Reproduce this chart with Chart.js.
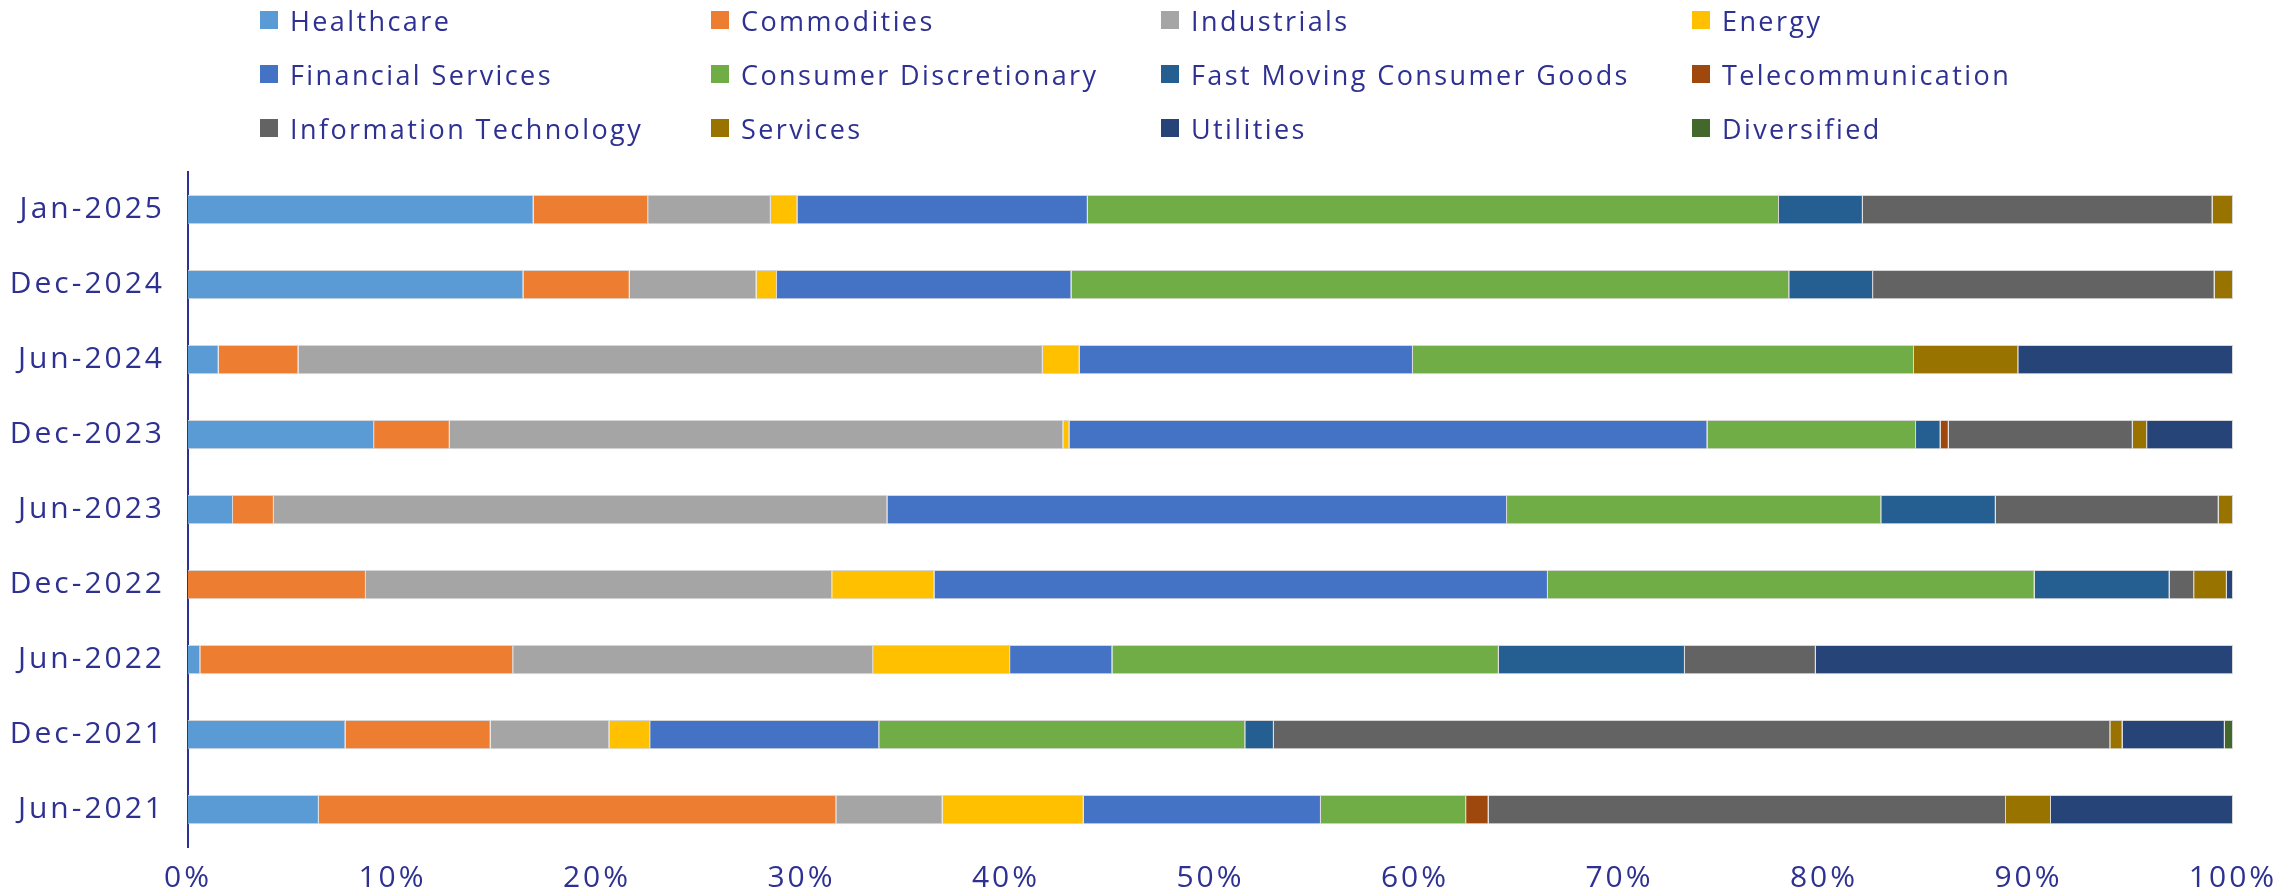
<!DOCTYPE html>
<html>
<head>
<meta charset="utf-8">
<script src="https://cdn.jsdelivr.net/npm/chart.js@4.4.1/dist/chart.umd.min.js"></script>
<style>
  html, body { margin: 0; padding: 0; background: #fff; }
  #wrap { position: relative; width: 2292px; height: 894px; }
  #legend {
    position: absolute; left: 260px; top: -7px;
    display: grid; grid-template-columns: 451px 450px 531px 300px;
    grid-auto-rows: 54px;
    font-family: "Open Sans", sans-serif; font-size: 27px; font-weight: 500;
    letter-spacing: 2.4px; color: #2E3192;
  }
  .item { display: flex; align-items: center; white-space: nowrap; }
  .box { width: 18px; height: 18px; margin-right: 12px; flex: none; }
</style>
</head>
<body>
<div id="wrap">
  <canvas id="myChart" width="2292" height="894"></canvas>
  <div id="legend"></div>
</div>
<script>
// Dữ liệu (% tỷ trọng theo ngành)
const categories = ['Jan-2025', 'Dec-2024', 'Jun-2024', 'Dec-2023', 'Jun-2023', 'Dec-2022', 'Jun-2022', 'Dec-2021', 'Jun-2021'];
const healthcare  = [16.9, 16.4, 1.5, 9.1, 2.2, 0, 0.6, 7.7, 6.4];
const commodities = [5.6, 5.2, 3.9, 3.7, 2.0, 8.7, 15.3, 7.1, 25.3];
const industrials = [6.0, 6.2, 36.4, 30.0, 30.0, 22.8, 17.6, 5.8, 5.2];
const energy      = [1.3, 1.0, 1.8, 0.3, 0, 5.0, 6.7, 2.0, 6.9];
const financial   = [14.2, 14.4, 16.3, 31.2, 30.3, 30.0, 5.0, 11.2, 11.6];
const consumerDisc = [33.8, 35.1, 24.5, 10.2, 18.3, 23.8, 18.9, 17.9, 7.1];
const fmcg        = [4.1, 4.1, 0, 1.2, 5.6, 6.6, 9.1, 1.4, 0];
const telecom     = [0, 0, 0, 0.4, 0, 0, 0, 0, 1.1];
const infoTech    = [17.1, 16.7, 0, 9.0, 10.9, 1.2, 6.4, 40.9, 25.3];
const services    = [1.0, 0.9, 5.1, 0.7, 0.7, 1.6, 0, 0.6, 2.2];
const utilities   = [0, 0, 10.5, 4.2, 0, 0.3, 20.4, 5.0, 8.9];
const diversified = [0, 0, 0, 0, 0, 0, 0, 0.4, 0];
const xTicks = [0, 10, 20, 30, 40, 50, 60, 70, 80, 90, 100];

const series = [
  ['Healthcare', healthcare, '#5B9BD5'],
  ['Commodities', commodities, '#ED7D31'],
  ['Industrials', industrials, '#A5A5A5'],
  ['Energy', energy, '#FFC000'],
  ['Financial Services', financial, '#4472C4'],
  ['Consumer Discretionary', consumerDisc, '#70AD47'],
  ['Fast Moving Consumer Goods', fmcg, '#255E91'],
  ['Telecommunication', telecom, '#9E480E'],
  ['Information Technology', infoTech, '#636363'],
  ['Services', services, '#997300'],
  ['Utilities', utilities, '#264478'],
  ['Diversified', diversified, '#43682B']
];

const textColor = '#2E3192';
const font = { family: '"Open Sans", sans-serif', size: 30, weight: 500 };

// giãn chữ trên canvas cho giống font gốc
const spacing = {
  id: 'spacing',
  beforeUpdate: c => { c.ctx.letterSpacing = '3px'; },
  beforeDraw: c => { c.ctx.letterSpacing = '3px'; }
};

const chartData = {
  labels: categories,
  datasets: series.map(s => ({
    label: s[0],
    data: s[1],
    backgroundColor: s[2],
    borderColor: 'rgba(210,210,210,0.9)',
    borderWidth: 1,
    barPercentage: 0.39,
    categoryPercentage: 1
  }))
};

const config = {
  type: 'bar',
  data: chartData,
  plugins: [spacing],
  options: {
    indexAxis: 'y',
    responsive: false,
    animation: false,
    layout: { padding: { top: 172, right: 59, bottom: 0, left: 0 } },
    plugins: {
      legend: { display: false },
      tooltip: { enabled: false }
    },
    scales: {
      x: {
        stacked: true,
        min: 0,
        max: 100,
        grid: { display: false },
        border: { display: false },
        afterFit: s => { s.height = 47; },
        afterBuildTicks: s => { s.ticks = xTicks.map(v => ({ value: v })); },
        ticks: { color: textColor, font: font, padding: 5, maxRotation: 0, callback: v => v + '%' }
      },
      y: {
        stacked: true,
        grid: { display: false },
        border: { color: textColor, width: 2 },
        afterFit: s => { s.width = 188; },
        ticks: { color: textColor, font: font, padding: 15 }
      }
    }
  }
};

const myChart = new Chart(document.getElementById('myChart'), config);

// Chú thích (legend) dạng HTML, 4 cột
const legend = document.getElementById('legend');
series.forEach(s => {
  const item = document.createElement('div');
  item.className = 'item';
  item.innerHTML = '<span class="box" style="background:' + s[2] + '"></span>' + s[0];
  legend.appendChild(item);
});
</script>
</body>
</html>
